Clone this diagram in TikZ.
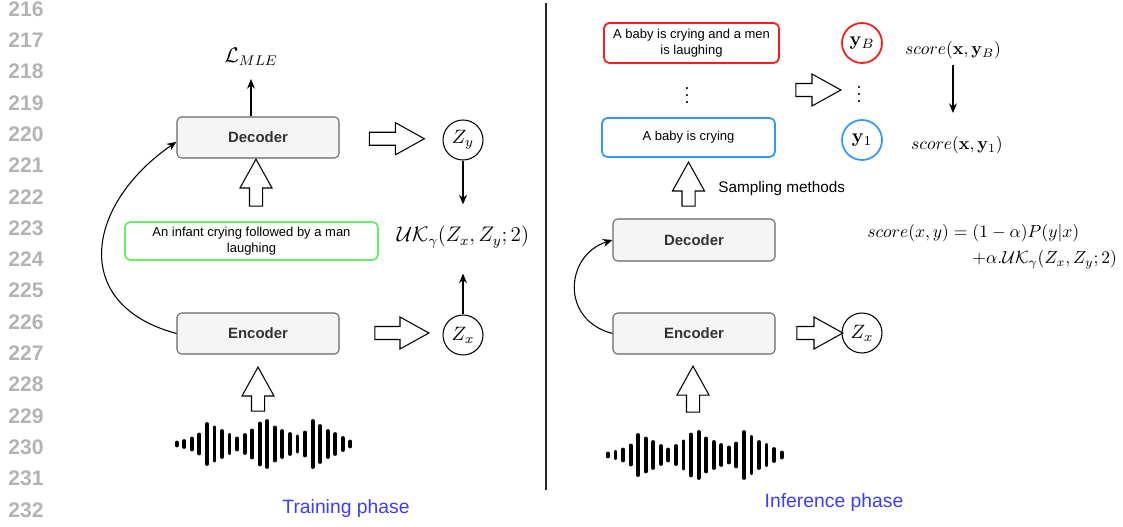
\RequirePackage{fix-cm}
\documentclass[tikz,border=0pt]{standalone}
\usepackage[no-math]{fontspec}
\setmainfont{Liberation Sans}
\usepackage{xcolor}
\usepackage{amsmath}
\usepackage{amssymb}
\usetikzlibrary{positioning,calc,shapes.arrows,arrows.meta}

\definecolor{boxgray}{HTML}{F5F5F5}
\definecolor{boxline}{HTML}{666666}
\definecolor{boxtext}{HTML}{333333}
\definecolor{capgreen}{HTML}{66EE66}
\definecolor{capred}{HTML}{FF1A1A}
\definecolor{capblue}{HTML}{3399FF}
\definecolor{phaseblue}{HTML}{3C3CFF}
\definecolor{linenum}{HTML}{B3B3B3}

\begin{document}
\begin{tikzpicture}[x=0.02cm, y=-0.02cm,
  block/.style={draw=boxline, line width=0.6pt, fill=boxgray, rounded corners=2.5pt,
    minimum width=3.24cm, minimum height=0.82cm, text=boxtext,
    font=\bfseries\fontsize{8.5}{10}\selectfont},
  caption/.style={draw=#1, line width=1pt, rounded corners=3pt, align=center,
    inner sep=1pt, font=\fontsize{7.4}{8.8}\selectfont},
  latent/.style={draw, circle, line width=0.6pt, minimum size=0.8cm, inner sep=0pt,
    font=\fontsize{11}{13}\selectfont},
  sample/.style={latent, draw=#1, line width=1pt},
  hollow/.style={single arrow, draw, line width=0.6pt, fill=white, inner xsep=0pt,
    inner ysep=0.12cm, single arrow head extend=0.19cm, single arrow tip angle=58,
    minimum height=#1},
  wire/.style={-{Stealth[length=5.5pt,width=4.5pt]}, line width=0.6pt},
  phase/.style={text=phaseblue, font=\fontsize{11}{13}\selectfont},
]
\useasboundingbox (0,0) rectangle (1123,527);

% line numbers
\foreach \n [count=\k from 0] in {216,...,232}
  \node[anchor=east, inner sep=0pt, text=linenum, font=\bfseries\fontsize{12}{14}\selectfont]
    (ln\n) at (44, 9+31.3*\k) {\n};

% training
\node[block] (decL) at (258,137.5) {Decoder};
\node[block] (encL) at (258,333.5) {Encoder};
\node[caption=capgreen, minimum width=5.06cm, minimum height=0.76cm] (capL) at (251.5,241)
  {An infant crying followed by a man\\laughing};
\node[latent] (zyL) at (463,140) {$Z_y$};
\node[latent] (zxL) at (463,335) {$Z_x$};
\node[font=\fontsize{12}{14}\selectfont] (mle) at (251,57) {$\mathcal{L}_{MLE}$};
\node[font=\fontsize{12}{14}\selectfont] (ukL) at (463,237) {$\mathcal{UK}_\gamma(Z_x, Z_y; 2)$};

\node[hollow=1.1cm] (hZy) at ($(decL.east)!0.5!(zyL.west)$) {};
\node[hollow=1.08cm] (hZx) at (396,333) {};
\node[hollow=0.94cm, rotate=90] (hCap) at (256,188.5) {};
\node[hollow=0.88cm, rotate=90] (hWavL) at (258,395) {};

\draw[wire, shorten >=0.14cm] (decL.north -| mle) -- (mle);
\draw[wire, shorten >=0.31cm] (zyL) -- (ukL);
\draw[wire, shorten >=0.39cm] (zxL) -- (ukL);
\draw[wire] (encL.west) .. controls (70,305) and (85,205) .. (decL.183);

% inference
\node[caption=capred, minimum width=3.5cm, minimum height=0.8cm] (yBtxt) at (691.5,43)
  {A baby is crying and a men\\is laughing};
\node[inner sep=0pt] (dotsT) at (687,90) {$\vdots$};
\node[caption=capblue, minimum width=3.46cm, minimum height=0.78cm] (y1txt) at (688.5,137.5)
  {A baby is crying};
\node[block, minimum height=0.84cm] (decR) at (694,240) {Decoder};
\node[block] (encR) at (694,333.5) {Encoder};
\node[latent] (zxR) at (862,333) {$Z_x$};
\node[sample=capred] (yB) at (862,43) {$\mathbf{y}_B$};
\node[inner sep=0pt] (dotsY) at (859,89) {$\vdots$};
\node[sample=capblue] (y1) at (862,140) {$\mathbf{y}_1$};
\node (sB) at (953,50) {$score(\mathbf{x}, \mathbf{y}_B)$};
\node (s1) at (957,145) {$score(\mathbf{x}, \mathbf{y}_1)$};
\node[anchor=west, inner sep=0pt, font=\fontsize{8.7}{10}\selectfont] (samp) at (718,189)
  {Sampling methods};
\node[anchor=west, inner sep=0pt] (scoreEq) at (867,246)
  {$\begin{aligned} score(x,y) = {}&(1-\alpha)P(y|x)\\
     &{+}\alpha.\mathcal{UK}_\gamma(Z_x, Z_y; 2)\end{aligned}$};

\node[hollow=0.9cm] (hY) at (812.5,90) {};
\node[hollow=0.92cm] (hZxR) at (814,333) {};
\node[hollow=0.88cm, rotate=90] (hSamp) at (688.5,190) {};
\node[hollow=0.92cm, rotate=90] (hWavR) at (693,395) {};

\draw[wire, shorten >=0.34cm] (sB) -- (sB |- s1.north);
\draw[wire] (encR.west) .. controls (560,320) and (565,255) .. (decR.west);

% audio waveforms
\foreach \wx/\wy in {176.7/444, 608/455}
  \foreach \h [count=\i from 0] in {7,10,15,23,44,37,30,22,15,22,31,45,50,37,30,24,19,27,50,40,30,24,16,9}
    \draw[line width=2.2pt, line cap=round] (\wx+7.55*\i, \wy-\h/2+2) -- ++(0,\h-4);

% divider
\coordinate (sepTop) at (546,3);
\coordinate (sepBot) at (546,490);
\draw[line width=1.1pt, black!85] (sepTop) -- (sepBot);

\node[phase] (trainLbl) at (346,509) {Training phase};
\node[phase] (inferLbl) at (834,503) {Inference phase};
\end{tikzpicture}
\end{document}
